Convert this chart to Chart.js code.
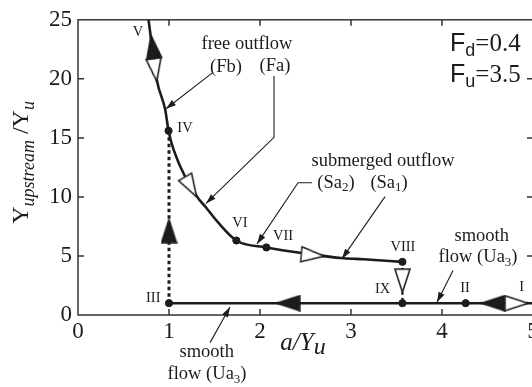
<!DOCTYPE html>
<html>
<head>
<meta charset="utf-8">
<script src="https://cdn.jsdelivr.net/npm/chart.js@4/dist/chart.umd.min.js"></script>
<style>
  html, body { margin: 0; padding: 0; background: #fff; overflow: hidden; }
  #wrap { width: 560px; height: 387px; }
</style>
</head>
<body>
<div id="wrap"><canvas id="chart" width="560" height="387"></canvas></div>
<script>
// outflow branch: free outflow (Fb, Fa) then submerged outflow (Sa2, Sa1)
const curveX = [0.775, 0.866, 0.958, 0.995, 1.05, 1.31, 1.40, 1.53, 1.74, 2.07, 2.5, 2.92, 3.14, 3.565];
const curveY = [25.0, 19.9, 17.4, 15.6, 14.0, 10.0, 9.17, 7.92, 6.31, 5.72, 5.2, 4.81, 4.72, 4.5];

// smooth flow branch (Ua3)
const smoothX = [1.0, 5.0];
const smoothY = [1.0, 1.0];

// jumps between branches
const jumpUpX = [1.0, 1.0];       // III -> IV
const jumpUpY = [1.0, 15.6];
const jumpDownX = [3.565, 3.565]; // VIII -> IX
const jumpDownY = [4.5, 1.0];

// state points
const dotNames = ["IV", "VI", "VII", "VIII", "III", "IX", "II"];
const dotX = [0.995, 1.74, 2.07, 3.565, 1.0, 3.565, 4.26];
const dotY = [15.6, 6.31, 5.72, 4.5, 1.0, 1.0, 1.0];

// direction arrows along the paths (angle in degrees, 0 = pointing right)
const solidArrowX = [0.82, 1.0, 2.31, 4.56];
const solidArrowY = [22.7, 7.1, 1.0, 1.0];
const solidArrowAngle = [-98, -90, 180, 180];
const openArrowX = [0.848, 1.24, 2.58, 3.565, 4.82];
const openArrowY = [20.75, 10.85, 5.06, 2.9, 1.0];
const openArrowAngle = [82, 60, 5, 90, 0];

const xTicks = [0, 1, 2, 3, 4, 5];
const yTicks = [0, 5, 10, 15, 20, 25];

const SERIF = "'Liberation Serif', 'Times New Roman', serif";
const SANS = "'Liberation Sans', Arial, sans-serif";
const INK = "#1c1c1c";

function pts(xs, ys) {
  return xs.map((x, i) => ({ x, y: ys[i] }));
}

function makeTriangle(filled) {
  const c = document.createElement("canvas");
  c.width = 25; c.height = 17;
  const g = c.getContext("2d");
  g.beginPath();
  g.moveTo(1, 1);
  g.lineTo(24, 8.5);
  g.lineTo(1, 16);
  g.closePath();
  g.fillStyle = filled ? INK : "#fff";
  g.fill();
  g.lineWidth = 1.4;
  g.strokeStyle = INK;
  g.stroke();
  return c;
}
const solidTri = makeTriangle(true);
const openTri = makeTriangle(false);

// text drawn as runs so subscripts can sit lower
function rich(ctx, parts, x, y, align) {
  let w = 0;
  parts.forEach(p => { ctx.font = p[1]; w += ctx.measureText(p[0]).width; });
  let cx = align === "center" ? x - w / 2 : align === "right" ? x - w : x;
  ctx.textAlign = "left";
  parts.forEach(p => {
    ctx.font = p[1];
    ctx.fillText(p[0], cx, y + (p[2] || 0));
    cx += ctx.measureText(p[0]).width;
  });
}

const T = "18.5px " + SERIF;
const TS = "13px " + SERIF;
const R = "14.5px " + SERIF;

const romanLabels = [
  ["V", 0.659, 23.91], ["IV", 1.176, 15.8], ["III", 0.827, 1.4], ["VI", 1.78, 7.78],
  ["VII", 2.253, 6.69], ["VIII", 3.571, 5.71], ["IX", 3.348, 2.15], ["II", 4.253, 2.23], ["I", 4.876, 2.37],
];

const textLabels = [
  [[["free outflow", T]], 1.857, 22.91],
  [[["(Fb)", T]], 1.626, 20.99],
  [[["(Fa)", T]], 2.165, 21.07],
  [[["submerged outflow", T]], 3.352, 13.04],
  [[["(Sa", T], ["2", TS, 5], [")", T]], 2.835, 11.2],
  [[["(Sa", T], ["1", TS, 5], [")", T]], 3.418, 11.2],
  [[["smooth", T]], 4.436, 6.69],
  [[["flow (Ua", T], ["3", TS, 5], [")", T]], 4.396, 4.87],
  [[["smooth", T]], 1.414, -3.15],
  [[["flow (Ua", T], ["3", TS, 5], [")", T]], 1.418, -5.02],
];

const pointerLines = [
  [[1.473, 20.48], [0.967, 17.47]],
  [[2.154, 20.23], [2.154, 15.05], [1.407, 9.45]],
  [[2.571, 11.2], [2.418, 11.2], [1.967, 6.02]],
  [[3.374, 10.03], [2.901, 4.77]],
  [[4.121, 3.76], [3.945, 1.09]],
  [[1.451, -2.34], [1.67, 0.67]],
];

const decorations = {
  id: "decorations",
  afterDraw(chart) {
    const { ctx, chartArea: a, scales: { x, y } } = chart;
    const px = v => x.getPixelForValue(v);
    const py = v => y.getPixelForValue(v);
    ctx.save();

    // frame with inward ticks
    ctx.strokeStyle = "#333";
    ctx.lineWidth = 1.5;
    ctx.strokeRect(a.left, a.top, a.right - a.left, a.bottom - a.top);
    ctx.beginPath();
    xTicks.slice(1, -1).forEach(v => {
      ctx.moveTo(px(v), a.bottom); ctx.lineTo(px(v), a.bottom - 6);
      ctx.moveTo(px(v), a.top); ctx.lineTo(px(v), a.top + 6);
    });
    yTicks.slice(1, -1).forEach(v => {
      ctx.moveTo(a.left, py(v)); ctx.lineTo(a.left + 6, py(v));
      ctx.moveTo(a.right, py(v)); ctx.lineTo(a.right - 6, py(v));
    });
    ctx.stroke();

    // pointer lines with arrow heads
    ctx.strokeStyle = INK;
    ctx.fillStyle = INK;
    ctx.lineWidth = 1.1;
    pointerLines.forEach(line => {
      const p = line.map(q => [px(q[0]), py(q[1])]);
      ctx.beginPath();
      ctx.moveTo(p[0][0], p[0][1]);
      p.slice(1).forEach(q => ctx.lineTo(q[0], q[1]));
      ctx.stroke();
      const [ex, ey] = p[p.length - 1];
      const [sx, sy] = p[p.length - 2];
      const ang = Math.atan2(ey - sy, ex - sx);
      ctx.beginPath();
      ctx.moveTo(ex, ey);
      ctx.lineTo(ex - 10 * Math.cos(ang) + 3.2 * Math.sin(ang), ey - 10 * Math.sin(ang) - 3.2 * Math.cos(ang));
      ctx.lineTo(ex - 10 * Math.cos(ang) - 3.2 * Math.sin(ang), ey - 10 * Math.sin(ang) + 3.2 * Math.cos(ang));
      ctx.closePath();
      ctx.fill();
    });

    // labels
    ctx.textBaseline = "middle";
    romanLabels.forEach(([t, vx, vy]) => rich(ctx, [[t, R]], px(vx), py(vy), "center"));
    textLabels.forEach(([parts, vx, vy]) => rich(ctx, parts, px(vx), py(vy), "center"));

    ctx.textBaseline = "alphabetic";
    rich(ctx, [["F", "25px " + SANS], ["d", "18px " + SANS, 5], ["=0.4", "25px " + SERIF]], px(4.088), py(22.32), "left");
    rich(ctx, [["F", "25px " + SANS], ["u", "18px " + SANS, 5], ["=3.5", "25px " + SERIF]], px(4.088), py(19.71), "left");

    // axis titles
    rich(ctx, [["a/Y", "italic 25px " + SERIF], ["u", "italic 24px " + SERIF, 4]], px(2.473), 350, "center");
    ctx.translate(28, (a.top + a.bottom) / 2 - 5);
    ctx.rotate(-Math.PI / 2);
    rich(ctx, [["Y", "24px " + SERIF], ["upstream", "italic 18px " + SERIF, 6], [" /Y", "24px " + SERIF], ["u", "italic 18px " + SERIF, 6]], 0, 0, "center");

    ctx.restore();
  },
};

const lineStyle = { showLine: true, pointRadius: 0, borderColor: INK, fill: false };

new Chart(document.getElementById("chart"), {
  type: "scatter",
  data: {
    datasets: [
      { data: pts(solidArrowX, solidArrowY), pointStyle: solidTri, pointRotation: solidArrowAngle, showLine: false },
      { data: pts(openArrowX, openArrowY), pointStyle: openTri, pointRotation: openArrowAngle, showLine: false },
      { label: "states", data: pts(dotX, dotY), pointRadius: 3.6, pointBackgroundColor: INK, pointBorderColor: INK, showLine: false },
      { ...lineStyle, data: pts(jumpDownX, jumpDownY), borderWidth: 2.2, borderDash: [3, 3] },
      { ...lineStyle, data: pts(jumpUpX, jumpUpY), borderWidth: 3, borderDash: [3.5, 3] },
      { ...lineStyle, data: pts(smoothX, smoothY), borderWidth: 2.6 },
      { ...lineStyle, data: pts(curveX, curveY), borderWidth: 2.6, cubicInterpolationMode: "monotone" },
    ],
  },
  options: {
    responsive: false,
    animation: false,
    events: [],
    layout: { padding: { top: 16, right: 27, left: 0, bottom: 0 } },
    plugins: { legend: { display: false }, tooltip: { enabled: false } },
    scales: {
      x: {
        type: "linear", min: 0, max: 5,
        afterFit: s => { s.height = 72; },
        afterBuildTicks: s => { s.ticks = xTicks.map(v => ({ value: v })); },
        grid: { display: false, drawTicks: false },
        border: { display: false },
        ticks: { color: INK, padding: 3, font: { family: SERIF, size: 23 }, maxRotation: 0 },
      },
      y: {
        type: "linear", min: 0, max: 25,
        afterFit: s => { s.width = 78; },
        afterBuildTicks: s => { s.ticks = yTicks.map(v => ({ value: v })); },
        grid: { display: false, drawTicks: false },
        border: { display: false },
        ticks: { color: INK, padding: 6, font: { family: SERIF, size: 23 } },
      },
    },
  },
  plugins: [decorations],
});
</script>
</body>
</html>
